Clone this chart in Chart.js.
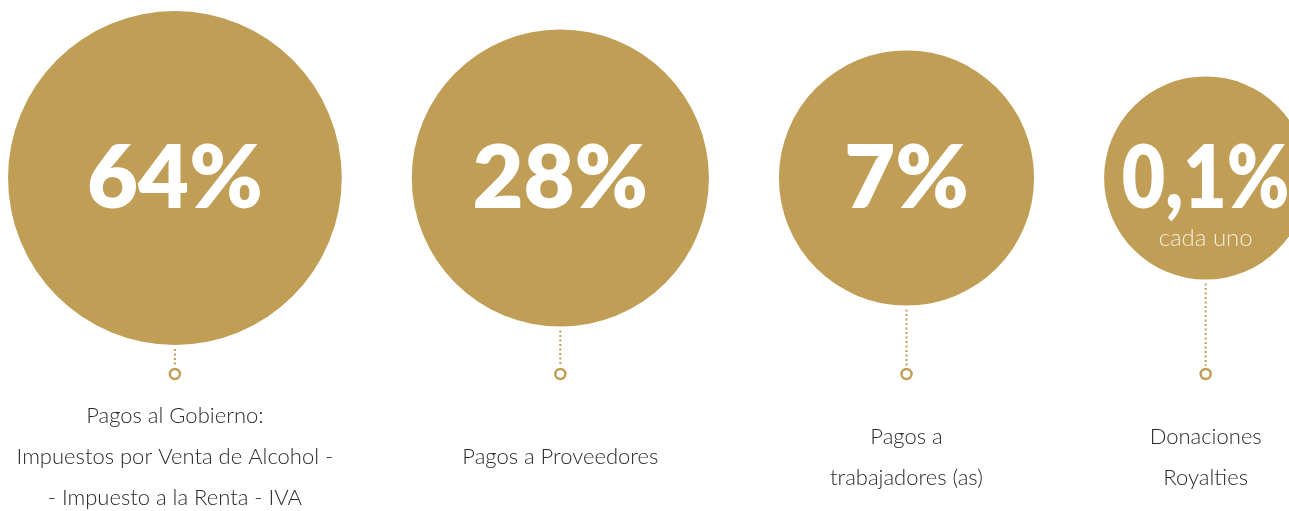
<!DOCTYPE html>
<html>
<head>
<meta charset="utf-8">
<script src="https://cdn.jsdelivr.net/npm/chart.js@4"></script>
<style>
  html, body { margin: 0; padding: 0; background: #fff; }
  #wrap { width: 1289px; height: 511px; }
</style>
</head>
<body>
<div id="wrap"><canvas id="myChart" width="1289" height="511"></canvas></div>
<script>
// data
const categories = ['Pagos al Gobierno', 'Pagos a Proveedores', 'Pagos a trabajadores (as)', 'Donaciones y Royalties']
const shares = [64, 28, 7, 0.1]
const shareLabels = ['64%', '28%', '7%', '0,1%']
const subLabels = ['', '', '', 'cada uno']
const captions = [
  ['Pagos al Gobierno:', 'Impuestos por Venta de Alcohol -', '- Impuesto a la Renta - IVA'],
  ['Pagos a Proveedores'],
  ['Pagos a', 'trabajadores (as)'],
  ['Donaciones', 'Royalties']
]

const gold = '#c09e56'

// bubble size grows with the share (not linear, small ones stay readable)
const radiusFor = v => 94 + 17 * Math.pow(v, 0.35)

// lay the bubbles out left to right with an even gap between them
let cursor = 8
const points = shares.map((v, i) => {
  const r = radiusFor(v)
  const x = cursor + r
  cursor = x + r + 70
  return { x: x, y: 0, r: r }
})

const labelPlugin = {
  id: 'bubbleLabels',
  afterDatasetsDraw: chart => {
    const ctx = chart.ctx
    const meta = chart.getDatasetMeta(0)
    const yScale = chart.scales.y
    const ringY = yScale.getPixelForValue(-196)
    ctx.save()
    meta.data.forEach((el, i) => {
      const x = el.x
      const y = el.y
      const r = el.options.radius

      // big percentage (squeezed a bit if the bubble is small)
      ctx.fillStyle = '#ffffff'
      ctx.textAlign = 'center'
      ctx.textBaseline = 'middle'
      ctx.font = '800 88px Lato'
      ctx.fillText(shareLabels[i], x, y + 2, r * 1.65)
      if (subLabels[i]) {
        ctx.fillStyle = '#f4ecda'
        ctx.font = '300 24px Lato'
        ctx.fillText(subLabels[i], x, y + 60)
      }

      // dotted connector + ring
      ctx.strokeStyle = gold
      ctx.lineWidth = 2
      ctx.setLineDash([2, 2.5])
      ctx.beginPath()
      ctx.moveTo(x, y + r + 4)
      ctx.lineTo(x, ringY - 8)
      ctx.stroke()
      ctx.setLineDash([])
      ctx.lineWidth = 2.5
      ctx.beginPath()
      ctx.arc(x, ringY, 5, 0, Math.PI * 2)
      ctx.stroke()

      // caption under the ring
      const lines = captions[i]
      const lh = 41
      const top = 457 - (lines.length - 1) * lh / 2
      ctx.fillStyle = '#2a2a2a'
      ctx.font = '300 22px Lato'
      lines.forEach((t, j) => ctx.fillText(t, x, top + j * lh))
    })
    ctx.restore()
  }
}

new Chart('myChart', {
  type: 'bubble',
  plugins: [labelPlugin],
  data: {
    labels: categories,
    datasets: [
      {
        label: 'Distribución',
        data: points,
        backgroundColor: gold,
        borderWidth: 0,
        clip: false
      }
    ]
  },
  options: {
    responsive: false,
    animation: false,
    events: [],
    layout: { padding: 0, autoPadding: false },
    plugins: {
      legend: { display: false },
      tooltip: { enabled: false }
    },
    scales: {
      x: { type: 'linear', min: 0, max: 1289, display: false },
      y: { type: 'linear', min: -333, max: 178, display: false }
    }
  }
})
</script>
</body>
</html>
